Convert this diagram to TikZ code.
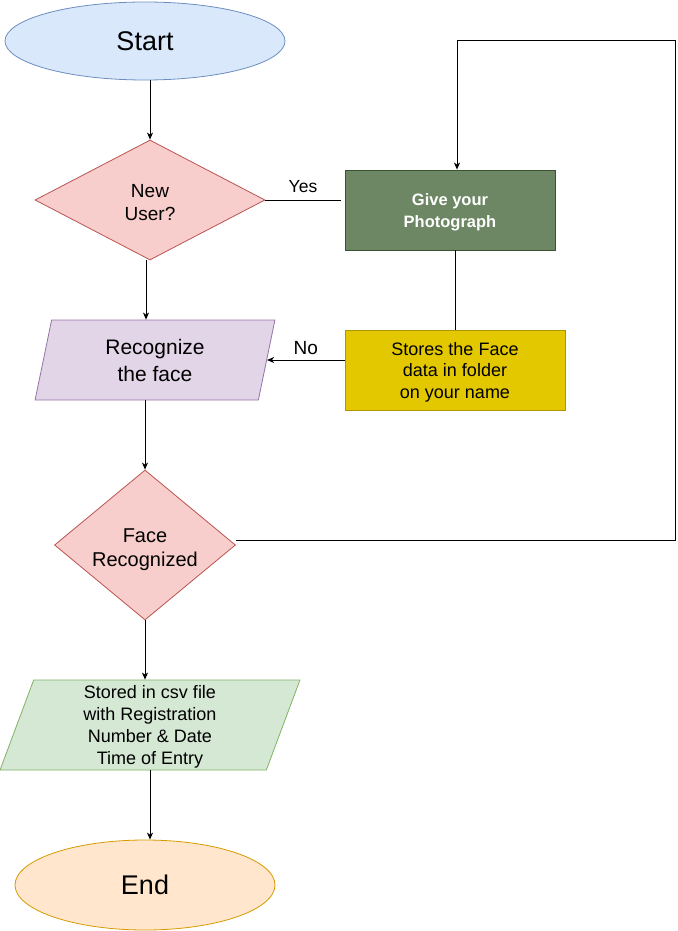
\documentclass[tikz,border=0pt]{standalone}
\usepackage{fontspec}
\setmainfont{Liberation Sans}
\usetikzlibrary{arrows.meta, shapes.geometric}

\definecolor{startfill}{HTML}{DAE8FC}
\definecolor{startdraw}{HTML}{6C8EBF}
\definecolor{decfill}{HTML}{F8CECC}
\definecolor{decdraw}{HTML}{B85450}
\definecolor{recfill}{HTML}{E1D5E7}
\definecolor{recdraw}{HTML}{9673A6}
\definecolor{photofill}{HTML}{6D8764}
\definecolor{photodraw}{HTML}{3A5431}
\definecolor{storefill}{HTML}{E3C800}
\definecolor{storedraw}{HTML}{B09500}
\definecolor{csvfill}{HTML}{D5E8D4}
\definecolor{csvdraw}{HTML}{82B366}
\definecolor{endfill}{HTML}{FFE6CC}
\definecolor{enddraw}{HTML}{D79B00}

% invisible strut to push the text of a node a little down
\newcommand{\pushdn}[1]{\rule{0pt}{#1}}

\begin{document}
\begin{tikzpicture}[x=1pt, y=-1pt,
  shp/.style={line width=0.8pt, align=center, inner sep=0pt},
  para/.style={shp, trapezium, trapezium stretches=true},
  arr/.style={-{Stealth[length=7pt, width=6pt, inset=2pt]}, line width=0.9pt},
  ln/.style={line width=0.9pt}]
  \useasboundingbox (0,0) rectangle (677,931);

  \node[shp, ellipse, draw=startdraw, fill=startfill, minimum width=280pt, minimum height=78pt,
        font=\fontsize{27}{32}\selectfont] (start) at (145,41) {Start};

  \node[shp, diamond, aspect=1.9, draw=decdraw, fill=decfill, minimum width=230pt, minimum height=120pt,
        font=\fontsize{19}{23}\selectfont] (nu) at (150,200) {\pushdn{19pt}New\\User?};

  \node[shp, draw=photodraw, fill=photofill, text=white, minimum width=210pt, minimum height=80pt,
        font=\fontsize{16.5}{22}\selectfont\bfseries] (photo) at (450,210) {\pushdn{16pt}Give your\\Photograph};

  \node[para, trapezium left angle=79.4, trapezium right angle=100.6, draw=recdraw, fill=recfill,
        minimum width=240pt, minimum height=80pt,
        font=\fontsize{21}{27}\selectfont] (rec) at (155,360) {Recognize\\the face};

  \node[shp, draw=storedraw, fill=storefill, minimum width=220pt, minimum height=80pt,
        font=\fontsize{18}{21.5}\selectfont] (store) at (455,370) {\pushdn{17pt}Stores the Face\\data in folder\\on your name};

  \node[shp, diamond, aspect=1.2, draw=decdraw, fill=decfill, minimum width=181pt, minimum height=150pt,
        font=\fontsize{20}{24}\selectfont] (fr) at (145,545) {\pushdn{24pt}Face\\Recognized};

  \node[para, trapezium left angle=77.5, trapezium right angle=102.5, draw=csvdraw, fill=csvfill,
        minimum width=300pt, minimum height=90pt,
        font=\fontsize{18}{22}\selectfont] (csv) at (150,725) {\pushdn{17pt}Stored in csv file\\with Registration\\Number \& Date\\Time of Entry};

  \node[shp, ellipse, draw=enddraw, fill=endfill, minimum width=260pt, minimum height=90pt,
        font=\fontsize{27}{32}\selectfont] (end) at (145,885) {End};

  \coordinate (loopT) at (675,40);

  \draw[arr] (start.south -| nu.north) -- (nu.north);
  \draw[ln] (nu.east) -- ([xshift=-4pt]photo.west |- nu.east)
    node[midway, above=4pt, font=\fontsize{17.5}{21}\selectfont] {Yes};
  \draw[ln] (store.north) -- (store.north |- photo.south);
  \draw[arr] (store.west |- rec.east) -- (rec.east)
    node[midway, above=2pt, font=\fontsize{19}{23}\selectfont] {No};
  \draw[arr] ([xshift=-4pt]nu.south) -- ([xshift=-4pt]nu.south |- rec.north);
  \draw[arr] (rec.south -| fr.north) -- (fr.north);
  \draw[arr] ([yshift=5pt]fr.east) -| (loopT) -| ([xshift=7pt]photo.north);
  \draw[arr] (fr.south) -- (fr.south |- csv.north);
  \draw[arr] (csv.south) -- (csv.south |- end.north);
\end{tikzpicture}
\end{document}
